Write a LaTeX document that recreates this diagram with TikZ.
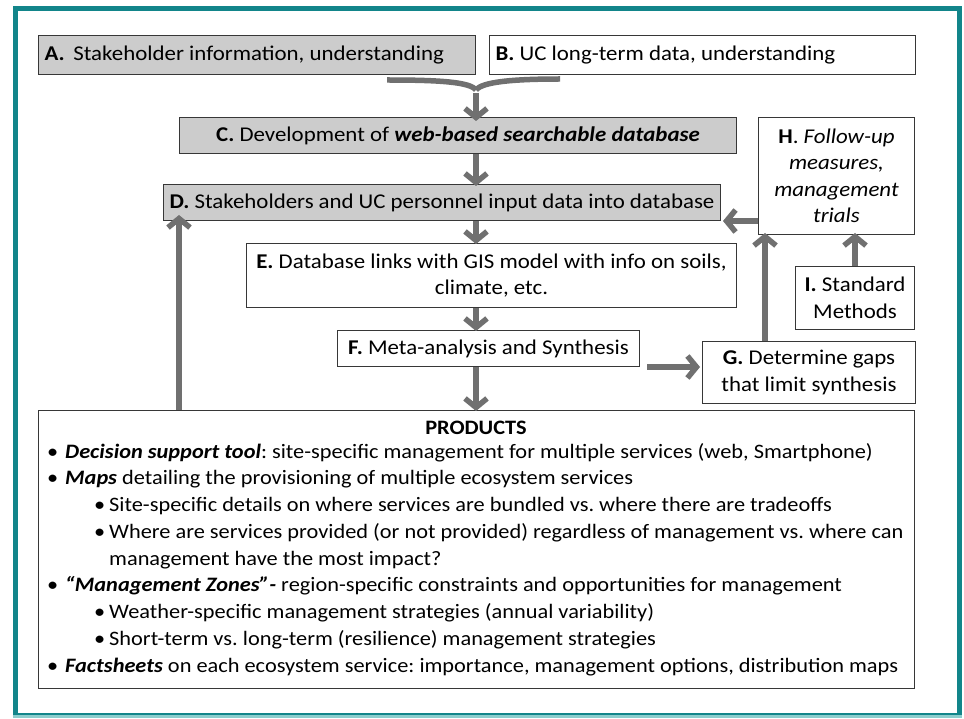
\documentclass[tikz,border=0pt]{standalone}
\usepackage{fontspec}
\setmainfont{Carlito}[FakeStretch=1.09]
\usetikzlibrary{arrows.meta}
\definecolor{tealdark}{RGB}{18,133,138}
\definecolor{teallight}{RGB}{140,205,205}
\definecolor{boxgray}{RGB}{204,204,204}
\definecolor{arrowgray}{RGB}{112,112,112}
\definecolor{edgecol}{RGB}{55,55,55}
\frenchspacing
\begin{document}
\begin{tikzpicture}[x=1pt,y=-1pt,
  box/.style={draw=edgecol, line width=1pt, fill=white, inner xsep=6pt, inner ysep=0pt,
    anchor=north west, font=\fontsize{21}{26.5}\selectfont, align=flush center},
  graybox/.style={box, fill=boxgray},
  flow/.style={draw=arrowgray, line width=5.5pt, -{Straight Barb[length=9pt,width=22pt]}},
  trunk/.style={draw=arrowgray, line width=5.5pt},
  ptext/.style={anchor=base west, inner sep=0pt, font=\fontsize{20.5}{24}\selectfont},
]
\useasboundingbox (0,0) rectangle (964,719);
\fill[white] (0,0) rectangle (964,719);
% frame
\draw[tealdark, line width=5pt] (15,8.5) rectangle (959.5,715);
\draw[teallight, line width=3pt] (12.5,716.5) -- (962,716.5);

% boxes
\node[graybox, minimum height=39, text width=425, align=flush left] (A) at (38,35)
  {\textbf{A.}\, Stakeholder information, understanding};
\node[box, minimum height=39, text width=414, align=flush left] (B) at (489,35)
  {\textbf{B.} UC long-term data, understanding};
\node[graybox, minimum height=36, text width=545] (C) at (179,117)
  {\textbf{C.} Development of \textbf{\textit{web-based searchable database}}};
\node[graybox, minimum height=36, text width=545] (D) at (163,184)
  {\textbf{D.} Stakeholders and UC personnel input data into database};
\node[box, minimum height=117, text width=144] (H) at (758,117)
  {\textbf{H}. \textit{Follow-up}\\ \textit{measures,}\\ \textit{management}\\ \textit{trials}};
\node[box, minimum height=64, text width=478] (E) at (246,243)
  {\textbf{E.} Database links with GIS model with info on soils,\\ climate, etc.};
\node[box, minimum height=36, text width=290] (F) at (337,330)
  {\textbf{F.} Meta-analysis and Synthesis};
\node[box, minimum height=63, text width=107] (I) at (795,266)
  {\textbf{I.} Standard\\ Methods};
\node[box, minimum height=62, text width=201] (G) at (702,341)
  {\textbf{G.} Determine gaps\\ that limit synthesis};
\node[box, minimum width=876, minimum height=278, inner sep=0pt] (P) at (38,410) {};

% products text
\node[ptext, anchor=base] (pt) at (476,434) {\textbf{PRODUCTS}};
\node[ptext] (b1) at (47,458) {•};
\node[ptext] (l1) at (65,458) {\textbf{\textit{Decision support tool}}: site-specific management for multiple services (web, Smartphone)};
\node[ptext] (b2) at (47,484.75) {•};
\node[ptext] (l2) at (65,484.75) {\textbf{\textit{Maps}} detailing the provisioning of multiple ecosystem services};
\node[ptext] (b3) at (94,511.5) {•};
\node[ptext] (l3) at (109,511.5) {Site-specific details on where services are bundled vs. where there are tradeoffs};
\node[ptext] (b4) at (94,538.25) {•};
\node[ptext] (l4) at (109,538.25) {Where are services provided (or not provided) regardless of management vs. where can};
\node[ptext] (l5) at (109,565) {management have the most impact?};
\node[ptext] (b6) at (47,591.75) {•};
\node[ptext] (l6) at (65,591.75) {\textbf{\textit{“Management Zones”-}} region-specific constraints and opportunities for management};
\node[ptext] (b7) at (94,618.5) {•};
\node[ptext] (l7) at (109,618.5) {Weather-specific management strategies (annual variability)};
\node[ptext] (b8) at (94,645.25) {•};
\node[ptext] (l8) at (109,645.25) {Short-term vs. long-term (resilience) management strategies};
\node[ptext] (b9) at (47,672) {•};
\node[ptext] (l9) at (65,672) {\textbf{\textit{Factsheets}} on each ecosystem service: importance, management options, distribution maps};

% connector helpers
\coordinate (m) at (476,90);
\coordinate (a1) at (387,80);
\coordinate (b1c) at (560,79);
\coordinate (fg) at (647,367);
\coordinate (xg) at (765,0);
\coordinate (yh) at (0,221);
\coordinate (xp) at (179,0);

% arrows
\draw[trunk] (a1) .. controls (440,80) and (470,82) .. (m);
\draw[trunk] (b1c) .. controls (512,79) and (482,82) .. (m);
\draw[flow] ([yshift=-3]m) -- ([yshift=-4]m |- C.north);
\draw[flow] (C.south -| m) -- ([yshift=-2]D.north -| m);
\draw[flow] (D.south -| m) -- ([yshift=-1]E.north -| m);
\draw[flow] (E.south -| m) -- ([yshift=-1]F.north -| m);
\draw[flow] (F.south -| m) -- ([yshift=-1]P.north -| m);
\draw[flow] (fg) -- ([xshift=-2]fg -| G.west);
\draw[flow] (G.north -| xg) -- ([yshift=2]H.south -| xg);
\draw[flow] (I.north) -- ([yshift=2]I.north |- H.south);
\draw[flow] (H.west |- yh) -- ([xshift=2]D.east |- yh);
\draw[flow] (P.north -| xp) -- ([yshift=6]D.south -| xp);
\end{tikzpicture}
\end{document}
